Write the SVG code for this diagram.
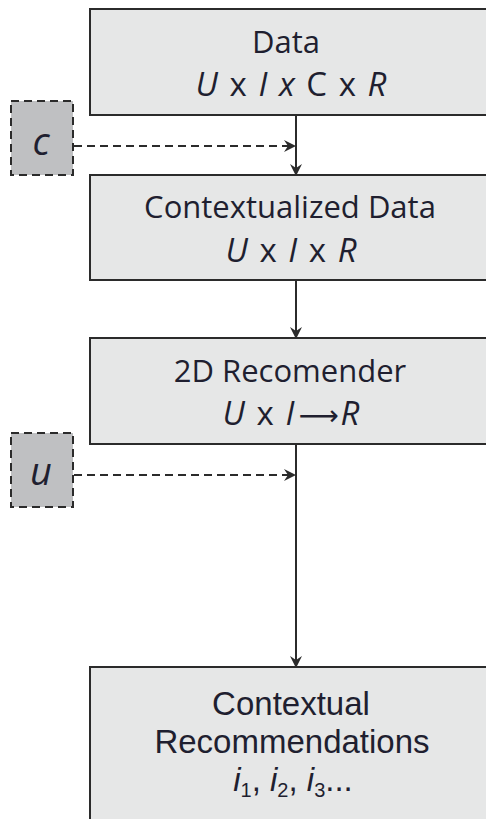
<svg xmlns="http://www.w3.org/2000/svg" width="486" height="819" viewBox="0 0 486 819">
<defs>
<style>
.box{fill:#e6e7e7;stroke:#2b2b2b;stroke-width:2}
.ctx{fill:#bfc0c2;stroke:#2b2b2b;stroke-width:2;stroke-dasharray:8,5}
.t{font-family:"Open Sans","Liberation Sans",sans-serif;font-size:31px;fill:#1f1f30;text-anchor:middle}
.f{font-size:33px;word-spacing:3px}
.b{font-family:"Liberation Sans",Arial,sans-serif;font-size:33px}
.i{font-style:italic}
.big{font-size:38px}
.line{stroke:#2b2b2b;stroke-width:2;fill:none}
.dash{stroke:#2b2b2b;stroke-width:2;fill:none;stroke-dasharray:8,5}
</style>
<marker id="ah2" viewBox="0 0 12 12" refX="11" refY="6" markerWidth="12" markerHeight="12" orient="auto" markerUnits="userSpaceOnUse">
<path d="M0,0 L12,6 L0,12 L4,6 z" fill="#2b2b2b"/>
</marker>
</defs>
<g id="connectors">
<line class="line" x1="296" y1="115" x2="296" y2="175" marker-end="url(#ah2)"/>
<line class="line" x1="296" y1="280" x2="296" y2="338" marker-end="url(#ah2)"/>
<line class="line" x1="296" y1="444" x2="296" y2="667" marker-end="url(#ah2)"/>
<line class="dash" x1="74" y1="146" x2="295" y2="146" marker-end="url(#ah2)"/>
<line class="dash" x1="74" y1="475" x2="295" y2="475" marker-end="url(#ah2)"/>
</g>
<g id="data">
<rect class="box" x="90" y="9" width="420" height="106"/>
<text class="t" x="286" y="53">Data</text>
<text class="t f" x="291" y="96"><tspan class="i">U</tspan> x <tspan class="i">I</tspan> <tspan class="i">x</tspan> C x <tspan class="i">R</tspan></text>
</g>
<g id="contextualized">
<rect class="box" x="90" y="175" width="420" height="105"/>
<text class="t" x="290" y="218">Contextualized Data</text>
<text class="t f" x="291" y="262"><tspan class="i">U</tspan> x <tspan class="i">I</tspan> x <tspan class="i">R</tspan></text>
</g>
<g id="recommender">
<rect class="box" x="90" y="338" width="420" height="106"/>
<text class="t" x="290" y="382">2D Recomender</text>
<text class="t f" x="291" y="425"><tspan class="i">U</tspan> x <tspan class="i">I</tspan><tspan font-family="DejaVu Sans" font-size="28" dx="4">⟶</tspan><tspan class="i" dx="2">R</tspan></text>
</g>
<g id="results">
<rect class="box" x="90" y="667" width="420" height="170"/>
<text class="t b" x="291" y="715">Contextual</text>
<text class="t b" x="292" y="753">Recommendations</text>
<text class="t b" x="293" y="791"><tspan class="i">i</tspan><tspan font-size="20" dy="6">1</tspan><tspan dy="-6">, </tspan><tspan class="i">i</tspan><tspan font-size="20" dy="6">2</tspan><tspan dy="-6">, </tspan><tspan class="i">i</tspan><tspan font-size="20" dy="6">3</tspan><tspan dy="-6">...</tspan></text>
</g>
<g id="c">
<rect class="ctx" x="11" y="101" width="62" height="74"/>
<text class="t i big" x="41" y="155">c</text>
</g>
<g id="u">
<rect class="ctx" x="11" y="433" width="62" height="74"/>
<text class="t i big" x="41" y="485">u</text>
</g>
</svg>
